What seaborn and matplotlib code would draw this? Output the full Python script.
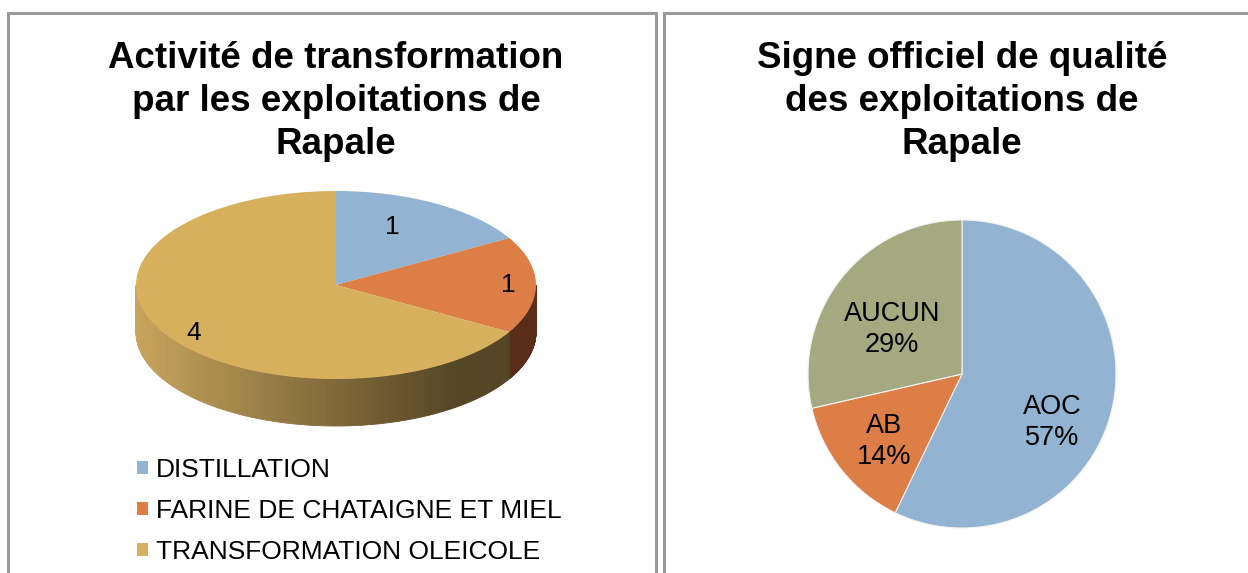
import numpy as np
import matplotlib
matplotlib.use("Agg")
import matplotlib.pyplot as plt
import seaborn as sns
from matplotlib.patches import Rectangle, Polygon

# data
transfo_labels = ["DISTILLATION", "FARINE DE CHATAIGNE ET MIEL", "TRANSFORMATION OLEICOLE"]
transfo_counts = [1, 1, 4]
transfo_colors = ["#93B3D2", "#DD7E47", "#D6B05C"]

signe_labels = ["AOC", "AB", "AUCUN"]
signe_counts = [4, 1, 2]
signe_colors = ["#93B3D2", "#DD7E47", "#A4A97F"]

sns.set_theme(style="white")
plt.rcParams['font.family'] = ['Liberation Sans', 'DejaVu Sans']
plt.rcParams['text.color'] = 'black'

W, H = 1248, 573
fig = plt.figure(figsize=(W / 100, H / 100), dpi=100)


def px_axes(x0, y0, x1, y1):
    """axes from pixel box (top-left origin)"""
    return fig.add_axes([x0 / W, 1 - y1 / H, (x1 - x0) / W, (y1 - y0) / H])


# panel borders
for x0, x1 in [(8, 656), (664, 1260)]:
    fig.patches.append(Rectangle((x0 / W, -0.05), (x1 - x0) / W, (1 - 13 / H) + 0.05,
                                 transform=fig.transFigure, fill=False,
                                 edgecolor="#9A9A9A", linewidth=2.2, zorder=0))

# ---- left: pseudo 3D pie ----
ax1 = px_axes(116, 170, 556, 450)
wedges, _ = ax1.pie(transfo_counts, colors=transfo_colors, startangle=90, counterclock=False,
                    radius=1, wedgeprops=dict(linewidth=0, zorder=2))
ax1.set_aspect('auto')
ax1.set_xlim(-1.1, 1.1)
ax1.set_ylim(-(450 - 285) / 94, (285 - 170) / 94)
ax1.axis('off')

depth = 0.5
total = sum(transfo_counts)
cum = np.cumsum([0] + transfo_counts)
light = np.array([200, 164, 92]) / 255
dark = np.array([84, 69, 37]) / 255
side_cols = [None, (np.array([120, 66, 34]) / 255, np.array([88, 46, 24]) / 255), (light, dark)]
for i in range(len(transfo_counts)):
    t1 = 90 - 360 * cum[i] / total
    t2 = 90 - 360 * cum[i + 1] / total
    # visible front wall between -180 and 0 degrees
    lo, hi = max(t2, -180), min(t1, 0)
    if hi <= lo or side_cols[i] is None:
        continue
    c_left, c_right = side_cols[i]
    th = np.radians(np.linspace(lo, hi, 160))
    for a, b in zip(th[:-1], th[1:]):
        xm = (np.cos(a) + np.cos(b)) / 2
        f = np.clip((xm + 1) / 1.6, 0, 1)
        col = c_left * (1 - f) + c_right * f
        poly = [(np.cos(a), np.sin(a)), (np.cos(b), np.sin(b)),
                (np.cos(b), np.sin(b) - depth), (np.cos(a), np.sin(a) - depth)]
        ax1.add_patch(Polygon(poly, closed=True, facecolor=col, edgecolor=col,
                              linewidth=0.6, zorder=1))

# value labels on top face
lab_r = [0.66, 0.86, 0.82]
lab_dx = [-0.05, 0.0, 0.0]
lab_dy = [0.05, 0.0, -0.1]
for i, v in enumerate(transfo_counts):
    mid = np.radians(90 - 360 * (cum[i] + cum[i + 1]) / 2 / total)
    ax1.text(lab_r[i] * np.cos(mid) + lab_dx[i], lab_r[i] * np.sin(mid) + lab_dy[i], str(v),
             ha='center', va='center', fontsize=19, color='black', zorder=3)

fig.text(336 / W, 1 - 41 / H, "Activité de transformation\npar les exploitations de\nRapale",
         ha='center', va='top', fontsize=26.5, fontweight='bold', linespacing=1.3)

fig.legend(wedges, transfo_labels, loc='upper left', bbox_to_anchor=(137 / W, 1 - 458 / H),
           frameon=False, fontsize=19, handlelength=0.42, handleheight=0.42,
           handletextpad=0.3, labelspacing=0.64, borderpad=0, borderaxespad=0)

# ---- right: flat pie ----
ax2 = px_axes(792, 204, 1132, 544)
pct = [100 * v / sum(signe_counts) for v in signe_counts]
w2, _ = ax2.pie(signe_counts, colors=signe_colors, startangle=90, counterclock=False,
                radius=1, wedgeprops=dict(linewidth=0.8, edgecolor="#F2F2F2"))
ax2.set_xlim(-170 / 154, 170 / 154)
ax2.set_ylim(-170 / 154, 170 / 154)
ax2.axis('off')
cum2 = np.cumsum([0] + signe_counts)
tot2 = sum(signe_counts)
lab_r2 = [0.6, 0.65, 0.58]
lab_dy = [-0.18, -0.03, -0.07]
for i, name in enumerate(signe_labels):
    mid = np.radians(90 - 360 * (cum2[i] + cum2[i + 1]) / 2 / tot2)
    ax2.text(lab_r2[i] * np.cos(mid), lab_r2[i] * np.sin(mid) + lab_dy[i],
             f"{name}\n{pct[i]:.0f}%", ha='center', va='center', fontsize=19.5,
             linespacing=1.25, color='black')

fig.text(962 / W, 1 - 41 / H, "Signe officiel de qualité\ndes exploitations de\nRapale",
         ha='center', va='top', fontsize=26.5, fontweight='bold', linespacing=1.3)

fig.savefig("out.png", dpi=100, facecolor="white")
